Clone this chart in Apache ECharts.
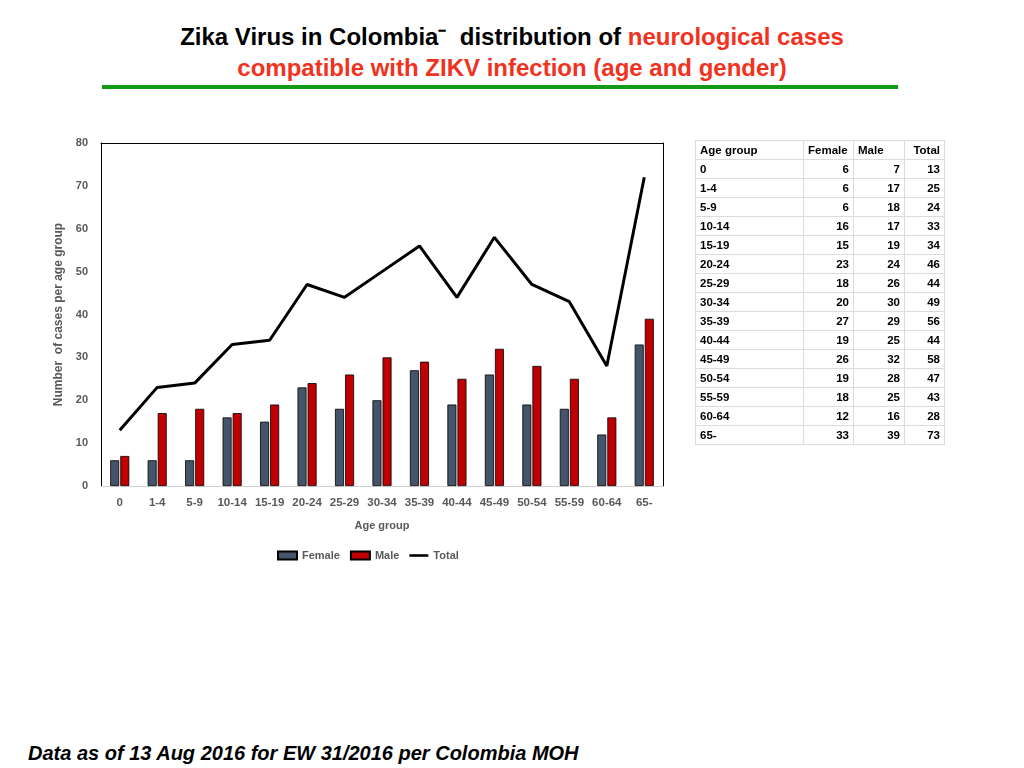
<!DOCTYPE html>
<html lang="en">
<head>
<meta charset="UTF-8">
<title>Zika neurological cases by age group</title>
<script src="https://cdn.jsdelivr.net/npm/echarts@6/dist/echarts.min.js"></script>
<style>
    body { margin: 0; width: 1024px; height: 768px; background: #fff; position: relative; overflow: hidden;
           font-family: "Liberation Sans", Arial, sans-serif; }
    .title { position: absolute; left: 0; width: 1024px; text-align: center; font-weight: bold; font-size: 24px; }
    .red { color: #f0321e; }
    #rule { position: absolute; left: 102px; top: 85px; width: 796px; height: 4px; background: #159a15; }
    #chart { position: absolute; left: 0; top: 0; width: 700px; height: 600px; }
    #tbl { position: absolute; left: 695px; top: 140px; border-collapse: collapse; font-size: 11.5px; font-weight: bold; }
    #tbl td { border: 1px solid #dcdcdc; height: 18px; padding: 0 4px; line-height: 18px; }
    #tbl td.n { text-align: right; }
    #foot { position: absolute; left: 28px; top: 742px; font-size: 20px; font-weight: bold; font-style: italic; }
</style>
</head>
<body>
<div class="title" style="top:19px">Zika Virus in Colombia&#8315;&nbsp; distribution of <span class="red">neurological cases</span></div>
<div class="title red" style="top:54px">compatible with ZIKV infection (age and gender)</div>
<div id="rule"></div>
<div id="chart"></div>
<table id="tbl"></table>
<div id="foot">Data as of 13 Aug 2016 for EW 31/2016 per Colombia MOH</div>

<script>
    // 年龄组
    var ageGroups = ['0', '1-4', '5-9', '10-14', '15-19', '20-24', '25-29', '30-34', '35-39', '40-44', '45-49', '50-54', '55-59', '60-64', '65-'];
    var female = [6, 6, 6, 16, 15, 23, 18, 20, 27, 19, 26, 19, 18, 12, 33];
    var male = [7, 17, 18, 17, 19, 24, 26, 30, 29, 25, 32, 28, 25, 16, 39];
    // line as drawn in the chart
    var totalLine = [13, 23, 24, 33, 34, 47, 44, 50, 56, 44, 58, 47, 43, 28, 72];
    // Total column as printed in the table
    var tableTotal = [13, 25, 24, 33, 34, 46, 44, 49, 56, 44, 58, 47, 43, 28, 73];
    var yTicks = [0, 10, 20, 30, 40, 50, 60, 70, 80];

    // table
    var html = '<tr><td style="width:99px">Age group</td><td style="width:41px">Female</td>' +
        '<td style="width:42px">Male</td><td style="width:31px;text-align:right">Total</td></tr>';
    for (var i = 0; i < ageGroups.length; i++) {
        html += '<tr><td>' + ageGroups[i] + '</td><td class="n">' + female[i] + '</td><td class="n">' +
            male[i] + '</td><td class="n">' + tableTotal[i] + '</td></tr>';
    }
    document.getElementById('tbl').innerHTML = html;

    var gray = '#595959';
    var lbl = { color: gray, fontWeight: 'bold', fontSize: 11, fontFamily: 'Liberation Sans' };

    var myChart = echarts.init(document.getElementById('chart'));
    myChart.setOption({
        animation: false,
        textStyle: { fontFamily: 'Liberation Sans' },
        grid: { left: 101, top: 143, width: 562, height: 343, containLabel: false },
        legend: {
            top: 545, left: 272,
            itemWidth: 19, itemHeight: 8, itemGap: 10,
            textStyle: lbl,
            data: [
                { name: 'Female', icon: 'rect' },
                { name: 'Male', icon: 'rect' },
                { name: 'Total', icon: 'path://M0,0H22V3H0Z' }
            ]
        },
        xAxis: [{
            type: 'category',
            data: ageGroups,
            name: 'Age group',
            nameLocation: 'middle',
            nameGap: 34,
            nameTextStyle: lbl,
            axisLine: { lineStyle: { color: '#d0d0d0', width: 1 } },
            axisTick: { show: false },
            axisLabel: Object.assign({ margin: 11, interval: 0 }, lbl, { fontSize: 11.5 })
        }, {
            type: 'category',
            position: 'top',
            data: ageGroups,
            axisLine: { onZero: false, lineStyle: { color: '#000', width: 1 } },
            axisTick: { show: false },
            axisLabel: { show: false }
        }],
        yAxis: [{
            type: 'value',
            min: yTicks[0], max: yTicks[yTicks.length - 1], interval: 10,
            name: 'Number  of cases per age group',
            nameLocation: 'middle',
            nameGap: 30,
            nameTextStyle: Object.assign({}, lbl, { fontSize: 12 }),
            axisLine: { show: true, lineStyle: { color: '#000', width: 1 } },
            axisTick: { show: false },
            splitLine: { show: false },
            axisLabel: Object.assign({ margin: 13 }, lbl)
        }, {
            type: 'value',
            position: 'right',
            min: 0, max: 80, interval: 10,
            axisLine: { show: true, onZero: false, lineStyle: { color: '#000', width: 1 } },
            axisTick: { show: false },
            splitLine: { show: false },
            axisLabel: { show: false }
        }],
        series: [{
            name: 'Female',
            type: 'bar',
            data: female,
            barWidth: 9,
            barGap: '12%',
            itemStyle: { color: '#44546a', borderColor: '#000', borderWidth: 0.8 }
        }, {
            name: 'Male',
            type: 'bar',
            data: male,
            barWidth: 9,
            itemStyle: { color: '#c00000', borderColor: '#000', borderWidth: 0.8 }
        }, {
            name: 'Total',
            type: 'line',
            data: totalLine,
            symbol: 'none',
            lineStyle: { color: '#000', width: 3 },
            itemStyle: { color: '#000' }
        }]
    });
</script>
</body>
</html>
